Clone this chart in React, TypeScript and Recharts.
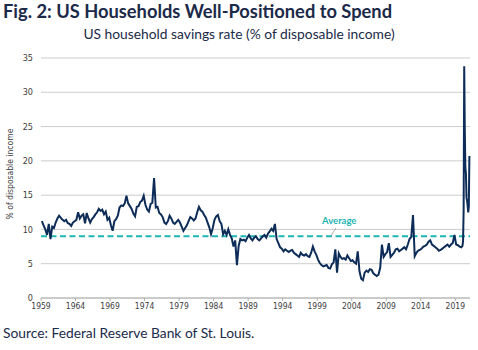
import { CartesianGrid, Line, LineChart, ReferenceLine, XAxis, YAxis } from "recharts";

// tick labels
const yearTicks = [1959, 1964, 1969, 1974, 1979, 1984, 1989, 1994, 1999, 2004, 2009, 2014, 2019];
const rateTicks = [0, 5, 10, 15, 20, 25, 30, 35];
const averageRate = 9.0;

// savings rate, quarterly readings, one array per decade (4 values per year)
const q1959 = [
  11.2, 10.6, 10.0, 9.2, 10.8, 8.6, 10.4, 10.2, 11.0, 11.6, 12.0, 11.7, 11.4, 11.2, 11.4, 10.9,
  10.8, 10.5, 11.0, 11.2, 11.4, 12.5, 11.6, 12.0, 12.2, 10.9, 12.4, 11.6, 11.0, 11.5, 11.8, 12.2,
  12.5, 13.0, 12.7, 12.9, 12.2, 12.6, 11.4, 11.7,
];
const q1969 = [
  10.6, 9.8, 11.2, 11.5, 12.0, 13.2, 13.5, 13.4, 13.8, 14.9, 13.8, 13.4, 13.0, 12.3, 11.9, 13.3,
  13.4, 14.0, 14.2, 14.9, 13.6, 12.9, 12.6, 13.7, 13.9, 17.5, 13.2, 13.3, 12.4, 12.2, 11.8, 11.0,
  10.8, 11.2, 12.0, 11.6, 11.0, 10.8, 11.1, 11.4,
];
const q1979 = [
  11.0, 10.4, 9.8, 10.2, 10.6, 11.2, 11.8, 11.6, 11.3, 11.6, 12.5, 13.3, 12.8, 12.6, 12.1, 11.7,
  11.0, 10.3, 9.3, 10.2, 11.4, 11.9, 12.1, 11.2, 10.8, 9.3, 9.8, 9.2, 10.0, 9.2, 8.7, 7.5,
  8.4, 4.8, 7.6, 8.6, 8.4, 8.5, 8.3, 8.8,
];
const q1989 = [
  9.2, 8.7, 8.4, 8.8, 9.0, 8.6, 8.4, 8.7, 9.0, 9.2, 8.8, 9.4, 9.7, 10.1, 9.8, 10.8,
  8.6, 8.0, 7.4, 7.2, 6.8, 7.1, 6.9, 6.7, 6.9, 7.0, 6.6, 6.4, 6.2, 6.0, 6.6, 6.3,
  6.2, 6.4, 6.1, 6.0, 6.6, 7.5, 6.8, 6.3,
];
const q1999 = [
  5.6, 5.1, 4.8, 4.6, 4.7, 4.8, 4.4, 4.3, 4.9, 5.2, 7.1, 3.7, 6.5, 6.0, 5.7, 5.8,
  5.6, 6.2, 5.8, 5.4, 5.5, 5.2, 5.0, 6.8, 3.9, 2.8, 2.6, 3.7, 4.0, 3.8, 4.2, 4.1,
  3.6, 3.4, 3.2, 3.4, 4.4, 7.8, 6.0, 6.4,
];
const q2009 = [
  6.7, 8.0, 6.0, 6.3, 6.6, 7.1, 7.2, 6.8, 7.0, 7.2, 7.4, 7.1, 7.8, 8.6, 8.9, 12.1,
  6.1, 6.6, 6.9, 7.0, 7.2, 7.5, 7.6, 7.8, 8.2, 8.4, 7.8, 7.6, 7.4, 7.2, 6.9, 7.0,
  7.2, 7.4, 7.6, 7.8, 7.5, 7.8, 8.0, 9.2, 7.8, 7.7, 7.5, 7.4,
];
// monthly, Jan 2020 - Jan 2021
const m2020 = [7.6, 8.3, 12.8, 33.8, 24.6, 19.0, 18.2, 14.6, 14.2, 13.4, 12.5, 13.3, 20.7];

const quarterly: [number, number[]][] = [
  [1959, q1959],
  [1969, q1969],
  [1979, q1979],
  [1989, q1989],
  [1999, q1999],
  [2009, q2009],
];

const rows: { t: number; v: number }[] = [];
quarterly.forEach(([start, vals]) =>
  vals.forEach((v, i) => rows.push({ t: start + i / 4 + 0.125, v }))
);
m2020.forEach((v, i) => rows.push({ t: 2020 + i / 12 + 1 / 24, v }));

const NAVY = "#0d2c57";
const TEAL = "#1db5b3";
const TEXT = "#1b2a48";
const narrow = "'Liberation Sans Narrow', 'DejaVu Sans Condensed', Roboto, sans-serif";

export default function App() {
  return (
    <div
      style={{
        position: "absolute",
        left: 0,
        top: 0,
        width: 478,
        height: 350,
        background: "#fff",
        fontFamily: "Lato, sans-serif",
        overflow: "hidden",
      }}
    >
      <div style={{ position: "absolute", left: 0, top: 0 }}>
        <LineChart width={478} height={350} data={rows} margin={{ top: 58, right: 8, bottom: 22, left: 0 }}>
          <CartesianGrid horizontal vertical={false} stroke="#cccccc" strokeWidth={1} />
          <XAxis
            dataKey="t"
            type="number"
            domain={[1959, 2021.13]}
            ticks={yearTicks}
            interval={0}
            height={30}
            stroke="#b0b0b0"
            tickSize={3}
            tickMargin={2}
            tick={{ fontSize: 8.5, fill: "#404040", fontFamily: narrow }}
          />
          <YAxis
            width={41}
            domain={[0, 35]}
            ticks={rateTicks}
            axisLine={false}
            tickLine={false}
            tickSize={0}
            tickMargin={8}
            tick={{ fontSize: 9, fill: "#404040", fontFamily: narrow }}
          />
          <ReferenceLine y={averageRate} stroke={TEAL} strokeWidth={2} strokeDasharray="6 3.5" />
          <ReferenceLine
            segment={[
              { x: 2001.0, y: 9.1 },
              { x: 2001.7, y: 10.2 },
            ]}
            stroke="#9a9a9a"
            strokeWidth={0.8}
          />
          <Line
            type="linear"
            dataKey="v"
            stroke={NAVY}
            strokeWidth={2}
            dot={false}
            isAnimationActive={false}
          />
        </LineChart>
      </div>
      <div
        style={{
          position: "absolute",
          left: 3,
          top: 0,
          fontSize: 18.3,
          fontWeight: 700,
          color: TEXT,
          lineHeight: "22px",
          whiteSpace: "nowrap",
        }}
      >
        Fig. 2: US Households Well-Positioned to Spend
      </div>
      <div
        style={{
          position: "absolute",
          left: 0,
          width: 478,
          top: 25,
          textAlign: "center",
          fontSize: 13.8,
          color: TEXT,
          lineHeight: "18px",
          whiteSpace: "nowrap",
        }}
      >
        US household savings rate (% of disposable income)
      </div>
      <div
        style={{
          position: "absolute",
          left: -50,
          top: 168,
          width: 120,
          textAlign: "center",
          fontSize: 8.5,
          color: "#404040",
          fontFamily: narrow,
          lineHeight: "12px",
          transform: "rotate(-90deg)",
          whiteSpace: "nowrap",
        }}
      >
        % of disposable income
      </div>
      <div
        style={{
          position: "absolute",
          left: 322,
          top: 215,
          fontSize: 9.5,
          fontWeight: 700,
          color: TEAL,
          lineHeight: "12px",
          whiteSpace: "nowrap",
        }}
      >
        Average
      </div>
      <div
        style={{
          position: "absolute",
          left: 3,
          top: 324,
          fontSize: 13.8,
          color: TEXT,
          lineHeight: "18px",
          whiteSpace: "nowrap",
        }}
      >
        Source: Federal Reserve Bank of St. Louis.
      </div>
    </div>
  );
}
